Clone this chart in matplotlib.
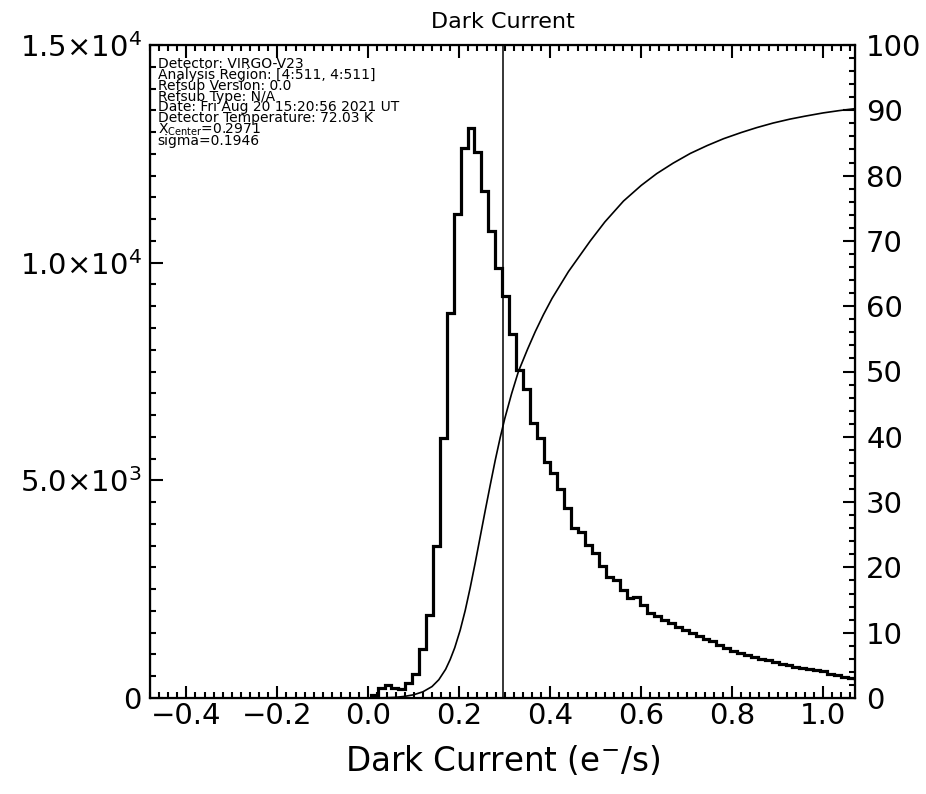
import numpy as np
import matplotlib
matplotlib.use("Agg")
import matplotlib.pyplot as plt
from matplotlib.ticker import MultipleLocator, FixedLocator, FixedFormatter

# histogram of dark current (e-/s), bin width 0.0152 starting at 0.0053
bin_start = 0.0053
bin_width = 0.0152
counts = [80, 230, 300, 230, 200, 337, 560, 1118, 1906, 3491,
          5965, 8851, 11117, 12640, 13086, 12548, 11653, 10734, 9870, 9234,
          8354, 7534, 7100, 6324, 5965, 5428, 5161, 4794, 4357, 3898,
          3820, 3514, 3324, 3030, 2786, 2700, 2480, 2300, 2320, 2136,
          1960, 1880, 1790, 1720, 1640, 1560, 1500, 1420, 1350, 1300,
          1220, 1150, 1090, 1040, 990, 950, 900, 870, 830, 780,
          760, 720, 690, 660, 640, 610, 560, 530, 490, 450, 430]

# cumulative percentage of pixels
cdf_x = [-0.48, 0.03, 0.06, 0.08, 0.10, 0.12, 0.14, 0.155, 0.17, 0.18,
         0.19, 0.202, 0.213, 0.224, 0.235, 0.246, 0.257, 0.268, 0.279, 0.290,
         0.30, 0.315, 0.33, 0.35, 0.367, 0.385, 0.404, 0.44, 0.488, 0.52,
         0.561, 0.6, 0.634, 0.67, 0.708, 0.745, 0.781, 0.82, 0.854, 0.89,
         0.927, 0.96, 1.0, 1.035, 1.07]
cdf_pct = [0, 0.02, 0.1, 0.25, 0.5, 0.95, 1.75, 2.8, 4.4, 5.9,
           7.7, 10.4, 13.4, 16.9, 20.7, 24.7, 28.7, 32.6, 36.4, 39.9,
           42.8, 46.6, 50.0, 53.4, 56.1, 58.7, 61.2, 65.3, 70.0, 72.9,
           76.1, 78.5, 80.3, 81.9, 83.4, 84.6, 85.65, 86.6, 87.35, 88.05,
           88.65, 89.1, 89.6, 89.95, 90.25]

x_center = 0.2971
sigma = 0.1946

info_lines = [
    "Detector: VIRGO-V23",
    "Analysis Region: [4:511, 4:511]",
    "Refsub Version: 0.0",
    "Refsub Type: N/A",
    "Date: Fri Aug 20 15:20:56 2021 UT",
    "Detector Temperature: 72.03 K",
    r"X$_{\rm Center}$=%.4f" % x_center,
    "sigma=%.4f" % sigma,
]

left_ticks = [0, 5000, 10000, 15000]
left_labels = ["0", r"5.0$\times$10$^3$", r"1.0$\times$10$^4$", r"1.5$\times$10$^4$"]

W, H = 926, 794
fig = plt.figure(figsize=(W / 100, H / 100), dpi=100)
ax = fig.add_axes([150 / W, 1 - 698 / H, 705 / W, 653 / H])

edges = bin_start + bin_width * np.arange(len(counts) + 1)
ax.stairs(counts, edges, color="black", linewidth=2.3, baseline=0)
ax.axvline(x_center, color="black", linewidth=1.1)

ax.set_xlim(-0.48, 1.07)
ax.set_ylim(0, 15000)
ax.xaxis.set_major_locator(MultipleLocator(0.2))
ax.xaxis.set_minor_locator(MultipleLocator(0.02))
ax.yaxis.set_major_locator(FixedLocator(left_ticks))
ax.yaxis.set_major_formatter(FixedFormatter(left_labels))
ax.yaxis.set_minor_locator(MultipleLocator(500))
ax.tick_params(axis="x", which="both", direction="in", top=True, labelsize=21, pad=3)
ax.tick_params(axis="y", which="both", direction="in", right=False, labelsize=21, pad=6)
ax.tick_params(which="major", length=9, width=1.5)
ax.tick_params(which="minor", length=4.5, width=1.5)
for s in ax.spines.values():
    s.set_linewidth(1.6)

ax2 = ax.twinx()
ax2.plot(cdf_x, cdf_pct, color="black", linewidth=1.2)
ax2.set_ylim(0, 100)
ax2.yaxis.set_major_locator(MultipleLocator(10))
ax2.yaxis.set_minor_locator(MultipleLocator(2))
ax2.tick_params(axis="y", which="both", direction="in", labelsize=21, pad=8)
ax2.tick_params(which="major", length=9, width=1.5)
ax2.tick_params(which="minor", length=4.5, width=1.5)

ax.set_title("Dark Current", fontsize=16, pad=12)
ax.set_xlabel(r"Dark Current (e$^{-}$/s)", fontsize=23.5, labelpad=10)

ax.text(0.011, 0.981, "\n".join(info_lines), transform=ax.transAxes,
        fontsize=10, va="top", ha="left", linespacing=0.7)

fig.savefig("out.png", dpi=100)
